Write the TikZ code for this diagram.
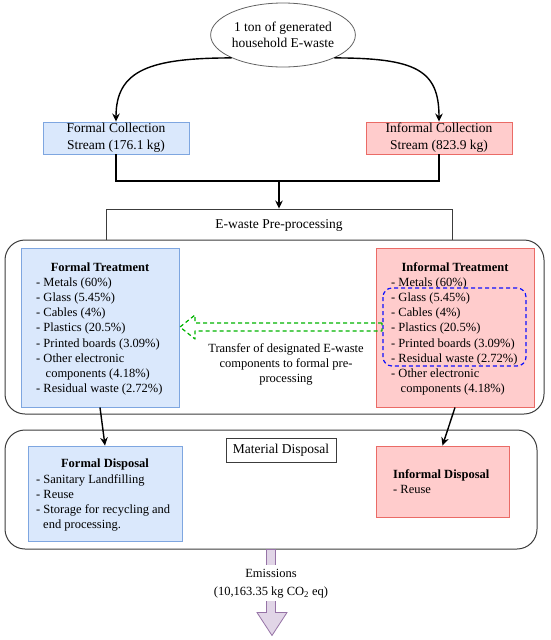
\documentclass[tikz,border=0pt]{standalone}
\usepackage{fontspec}
\setmainfont{Liberation Serif}
\usetikzlibrary{arrows.meta,calc,shapes.geometric}
\definecolor{bfill}{HTML}{DAE8FC}
\definecolor{bdraw}{HTML}{7EA6E0}
\definecolor{rfill}{HTML}{FFCCCC}
\definecolor{rdraw}{HTML}{EA6B66}
\definecolor{pfill}{HTML}{E1D5E7}
\definecolor{pdraw}{HTML}{9673A6}
\definecolor{gline}{HTML}{00B400}
\definecolor{bline}{HTML}{1010FF}
\definecolor{frame}{HTML}{3C3C3C}
\newcommand\fA{\fontsize{13.5}{17}\selectfont}
\newcommand\fB{\fontsize{12.5}{15.2}\selectfont}
\newcommand\lit{\strut- }
\begin{document}
\begin{tikzpicture}[x=1pt,y=-1pt,
  bluebox/.style={draw=bdraw,fill=bfill,line width=0.9pt,inner sep=0pt},
  redbox/.style={draw=rdraw,fill=rfill,line width=0.9pt,inner sep=0pt},
  container/.style={draw=frame,fill=white,line width=1pt,rounded corners=20pt,inner sep=0pt},
  plainbox/.style={draw=frame,fill=white,line width=0.9pt,inner sep=0pt},
  lst/.style={anchor=north west,align=left,inner sep=0pt,font=\fB},
  ttl/.style={anchor=base,inner sep=0pt,font=\fB\bfseries},
  arr/.style={draw=black,line width=1.4pt,-{Stealth[length=8pt,width=7.5pt]}},
  conn/.style={draw=black,line width=1.4pt}]
\useasboundingbox (0,0) rectangle (550,640);

% top ellipse
\node[ellipse,draw=frame!80,line width=0.8pt,fill=white,minimum width=127pt,minimum height=64pt,inner sep=0pt,align=center,font=\fontsize{13.5}{16}\selectfont] (el) at (283,35) {1 ton of generated\\household E-waste};

% collection streams
\node[bluebox,minimum width=146pt,minimum height=32pt,align=center,font=\fA] (fc) at (116,138) {Formal Collection\\Stream (176.1 kg)};
\node[redbox,minimum width=146pt,minimum height=32pt,align=center,font=\fA] (ic) at (439,138) {Informal Collection\\Stream (823.9 kg)};

\draw[arr] (el.south west) .. controls (150,58) and (116,70) .. (fc.north);
\draw[arr] (el.south east) .. controls (416,58) and (439,70) .. (ic.north);

% pre-processing
\node[plainbox,minimum width=346pt,minimum height=32pt,font=\fA] (pp) at (279,225) {E-waste Pre-processing};
\coordinate (j) at (279,181);
\draw[conn] (fc.south) |- (j) -| (ic.south);
\draw[arr] (j) -- (pp.north);

% treatment container
\node[container,minimum width=539pt,minimum height=174pt] (tc) at (274.5,327) {};

\node[bluebox,minimum width=158pt,minimum height=159pt] (ft) at (100,327.5) {};
\node[ttl] (ftt) at (100,271) {Formal Treatment};
\node[lst] (ftl) at (36,275.5) {\lit Metals (60\%)\\\lit Glass (5.45\%)\\\lit Cables (4\%)\\\lit Plastics (20.5\%)\\\lit Printed boards (3.09\%)\\\lit Other electronic\\\strut\hspace*{9.5pt}components (4.18\%)\\\lit Residual waste (2.72\%)};

\node[redbox,minimum width=158pt,minimum height=159pt] (it) at (455,327.5) {};
\node[ttl] (itt) at (455,271) {Informal Treatment};
\node[lst] (itl) at (391,275.5) {\lit Metals (60\%)\\\lit Glass (5.45\%)\\\lit Cables (4\%)\\\lit Plastics (20.5\%)\\\lit Printed boards (3.09\%)\\\lit Residual waste (2.72\%)\\\lit Other electronic\\\strut\hspace*{9.5pt}components (4.18\%)};

% blue dashed group
\draw[bline,line width=1.2pt,dash pattern=on 4pt off 3pt,rounded corners=9pt] (383,288) rectangle (526,366);

% green dashed transfer arrow
\draw[gline,line width=1.2pt,dash pattern=on 4pt off 3pt,line join=round]
  (382,323) -- (195,323) -- (195,315) -- (180,327) -- (195,339) -- (195,331) -- (382,331) -- cycle;
\node[anchor=north,align=center,inner sep=0pt,font=\fB] (tr) at (286,341.5) {\strut Transfer of designated E-waste\\\strut components to formal pre-\\\strut processing};

% disposal container
\node[container,minimum width=532pt,minimum height=119pt] (dc) at (271,489.5) {};
\node[plainbox,minimum width=110pt,minimum height=24pt,font=\fA] (md) at (281,450) {Material Disposal};

\node[bluebox,minimum width=154pt,minimum height=95pt] (fd) at (105,493.5) {};
\node[ttl] (fdt) at (105,467) {Formal Disposal};
\node[lst] (fdl) at (36,472.5) {\lit Sanitary Landfilling\\\lit Reuse\\\lit Storage for recycling and\\\strut\hspace*{7pt}end processing.};

\node[redbox,minimum width=133pt,minimum height=71pt] (id) at (442.5,481.5) {};
\node[lst] (idl) at (393,467.5) {\strut\textbf{Informal Disposal}\\\lit Reuse};

\draw[arr] (ft.south) -- (fd.north);
\draw[arr] (it.south) -- (id.north);

% emissions
\draw[draw=pdraw,fill=pfill,line width=0.8pt]
  ($(dc.south)+(-4.5,0)$) -- ($(dc.south)+(4.5,0)$) -- ($(dc.south)+(4.5,63)$) -- ($(dc.south)+(16,63)$)
  -- ($(dc.south)+(1,86)$) -- ($(dc.south)+(-14,63)$) -- ($(dc.south)+(-4.5,63)$) -- cycle;
\node[anchor=north,align=center,fill=white,inner xsep=2pt,inner ysep=0pt,font=\fontsize{12.5}{18}\selectfont] (em) at (271,564.4) {\strut Emissions\\\strut(10,163.35 kg CO\textsubscript{2} eq)};
\end{tikzpicture}
\end{document}
